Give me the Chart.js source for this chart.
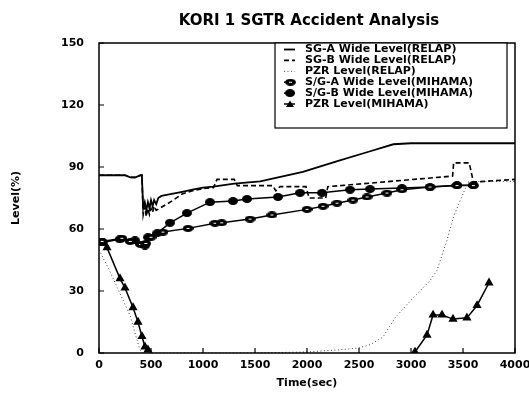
<!DOCTYPE html>
<html>
<head>
<meta charset="utf-8">
<script src="https://cdn.jsdelivr.net/npm/chart.js@4.4.1/dist/chart.umd.min.js"></script>
<style>
  html, body { margin: 0; padding: 0; background: #fff; }
  #wrap { width: 529px; height: 400px; }
</style>
</head>
<body>
<div id="wrap"><canvas id="chart"></canvas></div>
<script>
// series names, in legend order
const seriesNames = [
  'SG-A Wide Level(RELAP)',
  'SG-B Wide Level(RELAP)',
  'PZR Level(RELAP)',
  'S/G-A Wide Level(MIHAMA)',
  'S/G-B Wide Level(MIHAMA)',
  'PZR Level(MIHAMA)'
];

// SG-A wide level, RELAP (solid)
const sgaRelapTime = [0, 250, 300, 350, 400, 412, 425, 440, 455, 470, 485, 500, 515, 530, 550, 570, 600, 650, 700, 800, 900, 1000, 1100, 1300, 1550, 1960, 2300, 2600, 2830, 3000, 4000];
const sgaRelapLevel = [86, 86, 85, 85, 86, 86, 70, 73, 69, 73, 70, 74, 71, 74, 72, 75, 76, 76.5, 77, 78, 79, 80, 80.5, 82, 83, 87.6, 93, 97.5, 101, 101.5, 101.5];

// SG-B wide level, RELAP (dashed)
const sgbRelapTime = [0, 250, 300, 350, 400, 412, 425, 440, 455, 470, 485, 500, 515, 530, 550, 600, 650, 700, 800, 900, 1000, 1100, 1135, 1300, 1330, 1670, 1700, 1740, 1990, 2020, 2180, 2200, 2700, 3400, 3410, 3560, 3600, 4000];
const sgbRelapLevel = [86, 86, 85, 85, 86, 86, 67, 71, 66, 70, 67, 70, 68, 71, 69, 70.5, 72, 73.5, 77, 78.5, 79.5, 80, 84, 84, 81, 81, 78.5, 80.5, 80.5, 75, 75, 80.5, 82.6, 85.6, 92, 92, 82.7, 84];

// PZR level, RELAP (dotted)
const pzrRelapTime = [0, 100, 200, 300, 350, 394, 420, 1500, 2000, 2300, 2490, 2606, 2731, 2846, 3019, 3183, 3250, 3346, 3404, 3442, 3548, 3600, 4000];
const pzrRelapLevel = [50, 40, 29, 18, 9, 1.5, 0, 0, 0.5, 1.5, 2.4, 4, 7.7, 17, 26.6, 35, 40, 54.7, 65, 70, 82.7, 83, 83];

// S/G-A wide level, MIHAMA
const sgaMihamaTime = [30, 220, 300, 400, 450, 500, 615, 856, 1115, 1180, 1452, 1663, 2000, 2154, 2288, 2442, 2577, 2769, 2913, 3183, 3442, 3600];
const sgaMihamaLevel = [54, 55.5, 54, 52.5, 53, 56, 58.5, 60.3, 62.8, 63, 64.8, 66.8, 69.5, 71, 72.5, 74, 75.5, 77.4, 79, 80.3, 81, 81];

// S/G-B wide level, MIHAMA
const sgbMihamaTime = [30, 200, 346, 442, 471, 560, 683, 846, 1067, 1288, 1423, 1721, 1933, 2144, 2413, 2606, 2913, 3183, 3442, 3600];
const sgbMihamaLevel = [53.5, 55, 54.5, 52, 56, 58, 63, 67.7, 73, 73.5, 74.5, 75.5, 77.5, 77.5, 79, 79.3, 79.8, 80.3, 81.2, 81.2];

// PZR level, MIHAMA (null breaks the line while it sits at zero)
const pzrMihamaTime = [50, 77, 202, 250, 327, 375, 413, 442, 471, 1800, 3038, 3154, 3212, 3298, 3404, 3538, 3635, 3750];
const pzrMihamaLevel = [53, 51, 36, 31.5, 22, 15, 8, 3, 1.5, null, 0.5, 8.7, 18.4, 18.4, 16.4, 17, 23, 34];

const timeTicks = { min: 0, max: 4000, step: 500 };
const levelTicks = { min: 0, max: 150, step: 30 };

function pairs(t, v) {
  return t.map((x, i) => ({ x: x, y: v[i] }));
}

function makeMarker(w, h, hole) {
  const c = document.createElement('canvas');
  c.width = w;
  c.height = h;
  const g = c.getContext('2d');
  g.fillStyle = '#000';
  g.beginPath();
  g.ellipse(w / 2, h / 2, w / 2, h / 2, 0, 0, Math.PI * 2);
  g.fill();
  if (hole) {
    g.fillStyle = '#fff';
    g.fillRect(w / 2 - 1.5, h / 2 - 0.5, 3, 1);
  }
  return c;
}

const markerA = makeMarker(11, 7, true);
const markerB = makeMarker(10, 8, false);

const FONT = 'DejaVu Sans';

// frame, inward ticks and the boxed legend
const framePlugin = {
  id: 'frame',
  afterDraw(chart) {
    const ctx = chart.ctx;
    const a = chart.chartArea;
    const xs = chart.scales.x;
    const ys = chart.scales.y;
    ctx.save();
    ctx.strokeStyle = '#000';
    ctx.lineWidth = 1.5;
    ctx.strokeRect(a.left, a.top, a.right - a.left, a.bottom - a.top);

    ctx.lineWidth = 1.2;
    ctx.beginPath();
    xs.ticks.forEach(t => {
      const px = xs.getPixelForValue(t.value);
      ctx.moveTo(px, a.bottom);
      ctx.lineTo(px, a.bottom - 5);
    });
    ys.ticks.forEach(t => {
      const py = ys.getPixelForValue(t.value);
      ctx.moveTo(a.left, py);
      ctx.lineTo(a.left + 5, py);
    });
    ctx.stroke();

    // legend
    const bx = 275, by = a.top, bw = 232, bh = 85;
    ctx.fillStyle = '#fff';
    ctx.fillRect(bx, by, bw, bh);
    ctx.lineWidth = 1.2;
    ctx.strokeRect(bx, by, bw, bh);
    ctx.font = 'bold 11px "' + FONT + '"';
    ctx.textBaseline = 'middle';
    ctx.textAlign = 'left';
    chart.data.datasets.forEach((ds, i) => {
      const y = by + 6.5 + i * 10.9;
      ctx.fillStyle = '#000';
      ctx.strokeStyle = ds.borderColor;
      ctx.lineWidth = ds.borderWidth;
      ctx.setLineDash(ds.borderDash || []);
      ctx.beginPath();
      ctx.moveTo(284, y);
      ctx.lineTo(295, y);
      ctx.stroke();
      ctx.setLineDash([]);
      if (ds.pointStyle instanceof HTMLCanvasElement) {
        ctx.drawImage(ds.pointStyle, 285, y - ds.pointStyle.height / 2);
      } else if (ds.pointStyle === 'triangle') {
        ctx.beginPath();
        ctx.moveTo(290, y - 3.5);
        ctx.lineTo(294, y + 3);
        ctx.lineTo(286, y + 3);
        ctx.closePath();
        ctx.fill();
      }
      ctx.fillText(seriesNames[i], 305, y);
    });
    ctx.restore();
  }
};

const lineBase = { fill: false, tension: 0, spanGaps: false, borderColor: '#000', backgroundColor: '#000' };
const tickFont = { family: FONT, size: 11, weight: 'bold' };

new Chart(document.getElementById('chart'), {
  type: 'line',
  data: {
    datasets: [
      Object.assign({}, lineBase, {
        label: seriesNames[0], data: pairs(sgaRelapTime, sgaRelapLevel),
        borderWidth: 1.8, pointRadius: 0
      }),
      Object.assign({}, lineBase, {
        label: seriesNames[1], data: pairs(sgbRelapTime, sgbRelapLevel),
        borderWidth: 1.6, borderDash: [5, 3], pointRadius: 0
      }),
      Object.assign({}, lineBase, {
        label: seriesNames[2], data: pairs(pzrRelapTime, pzrRelapLevel),
        borderWidth: 1, borderDash: [1, 2.5], borderColor: '#444', pointRadius: 0
      }),
      Object.assign({}, lineBase, {
        label: seriesNames[3], data: pairs(sgaMihamaTime, sgaMihamaLevel),
        borderWidth: 1.5, pointStyle: markerA, pointRadius: 5
      }),
      Object.assign({}, lineBase, {
        label: seriesNames[4], data: pairs(sgbMihamaTime, sgbMihamaLevel),
        borderWidth: 1.5, pointStyle: markerB, pointRadius: 5
      }),
      Object.assign({}, lineBase, {
        label: seriesNames[5], data: pairs(pzrMihamaTime, pzrMihamaLevel),
        borderWidth: 1.5, pointStyle: 'triangle', pointRadius: 3.8
      })
    ]
  },
  options: {
    responsive: true,
    maintainAspectRatio: false,
    animation: false,
    layout: { padding: { top: 43, right: 14, left: 0, bottom: 0 } },
    plugins: {
      legend: { display: false },
      tooltip: { enabled: false },
      title: { display: false }
    },
    scales: {
      x: {
        type: 'linear',
        min: timeTicks.min,
        max: timeTicks.max,
        ticks: { stepSize: timeTicks.step, color: '#000', padding: 6, maxRotation: 0,
                 font: tickFont, callback: v => String(v) },
        grid: { display: false, drawTicks: false },
        border: { display: false },
        title: { display: true, text: 'Time(sec)', color: '#000', font: tickFont,
                 padding: { top: 0, bottom: 10 } },
        afterFit: s => { s.height = 47; s.paddingLeft = 0; s.paddingRight = 0; }
      },
      y: {
        type: 'linear',
        min: levelTicks.min,
        max: levelTicks.max,
        ticks: { stepSize: levelTicks.step, color: '#000', padding: 15,
                 font: tickFont, callback: v => String(v) },
        grid: { display: false, drawTicks: false },
        border: { display: false },
        title: { display: true, text: 'Level(%)', color: '#000', font: tickFont,
                 padding: { top: 10, bottom: 0 } },
        afterFit: s => { s.width = 99; s.paddingTop = 0; s.paddingBottom = 0; }
      }
    }
  },
  plugins: [framePlugin, {
    id: 'chartTitle',
    afterDraw(chart) {
      const ctx = chart.ctx;
      ctx.save();
      ctx.fillStyle = '#000';
      ctx.font = 'bold 15px "' + FONT + '"';
      ctx.textAlign = 'center';
      ctx.textBaseline = 'middle';
      ctx.fillText('KORI 1 SGTR Accident Analysis', 309, 21);
      ctx.restore();
    }
  }]
});
</script>
</body>
</html>
